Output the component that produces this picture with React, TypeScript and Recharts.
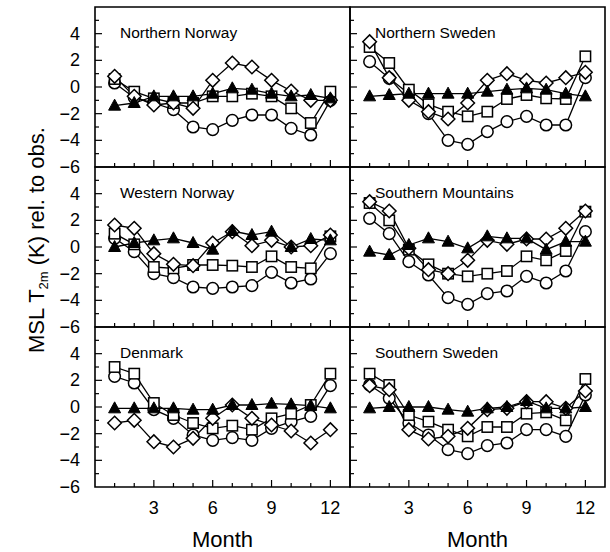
import React from "react";
import { LineChart, Line, XAxis, YAxis, ReferenceArea } from "recharts";

const months = [1, 2, 3, 4, 5, 6, 7, 8, 9, 10, 11, 12];
const yTicks = [-6, -5, -4, -3, -2, -1, 0, 1, 2, 3, 4, 5, 6];

// Northern Norway
const nNorCircle = [0.3, -0.8, -1.2, -1.7, -3.0, -3.2, -2.5, -2.1, -2.1, -3.1, -3.6, -1.0];
const nNorSquare = [0.6, -0.35, -0.85, -1.2, -1.2, -0.7, -0.7, -0.5, -0.7, -1.6, -2.7, -0.35];
const nNorDiamond = [0.8, -0.7, -1.35, -1.2, -1.6, 0.5, 1.8, 1.5, 0.5, -0.3, -1.0, -1.0];
const nNorTriangle = [-1.4, -1.2, -0.7, -0.7, -0.7, -0.5, -0.1, -0.2, -0.5, -0.7, -0.6, -0.85];

// Northern Sweden
const nSweCircle = [1.9, 0.65, -0.5, -2.0, -4.0, -4.3, -3.35, -2.6, -2.2, -2.85, -2.85, 0.7];
const nSweSquare = [3.0, 1.8, -0.2, -1.3, -1.85, -2.2, -1.85, -0.9, -0.6, -0.85, -0.9, 2.3];
const nSweDiamond = [3.4, 0.7, -1.0, -1.85, -2.4, -1.2, 0.5, 1.0, 0.5, 0.3, 0.7, 1.1];
const nSweTriangle = [-0.7, -0.6, -0.5, -0.5, -0.5, -0.5, -0.35, -0.2, -0.1, -0.2, -0.5, -0.7];

// Western Norway
const wNorCircle = [0.65, -0.35, -2.0, -2.3, -3.0, -3.1, -3.0, -2.9, -1.9, -2.7, -2.4, -0.5];
const wNorSquare = [1.0, 0.2, -1.5, -1.6, -1.35, -1.35, -1.4, -1.5, -0.7, -1.5, -1.6, 0.8];
const wNorDiamond = [1.65, 1.4, -0.5, -1.3, -1.4, 0.3, 1.15, 0.1, 0.5, 0.0, 0.1, 0.9];
const wNorTriangle = [0.0, 0.3, 0.5, 0.65, 0.3, -0.2, 1.2, 0.9, 1.15, 0.0, 0.6, 0.5];

// Southern Mountains
const sMtnCircle = [2.15, 1.0, -1.1, -2.1, -3.8, -4.3, -3.5, -3.3, -2.2, -2.7, -1.8, 1.15];
const sMtnSquare = [3.3, 2.0, -0.2, -1.3, -2.0, -2.2, -2.0, -1.8, -0.7, -1.0, -0.3, 2.65];
const sMtnDiamond = [3.4, 2.7, -0.1, -1.7, -2.0, -1.0, 0.5, 0.2, 0.6, 0.6, 1.4, 2.7];
const sMtnTriangle = [-0.35, -0.6, 0.15, 0.65, 0.4, -0.1, 0.8, 0.65, 0.65, -0.2, 0.4, 0.4];

// Denmark
const denCircle = [2.3, 1.8, -0.2, -0.85, -2.1, -2.5, -2.3, -2.5, -1.6, -1.1, -0.7, 1.6];
const denSquare = [3.0, 2.5, 0.3, -0.6, -1.2, -1.6, -1.4, -1.7, -0.85, -0.5, 0.15, 2.5];
const denDiamond = [-1.2, -1.0, -2.6, -3.0, -2.35, -0.85, 0.15, -0.85, -1.35, -1.8, -2.7, -1.7];
const denTriangle = [-0.1, -0.1, -0.1, -0.1, -0.2, -0.2, 0.15, 0.15, 0.25, 0.2, 0.1, -0.1];

// Southern Sweden
const sSweCircle = [1.65, 0.65, -1.2, -2.1, -3.2, -3.5, -2.9, -2.7, -1.7, -1.7, -2.2, 0.9];
const sSweSquare = [2.5, 1.65, -0.6, -1.1, -1.7, -2.2, -1.5, -1.5, -0.5, -0.4, -1.0, 2.1];
const sSweDiamond = [1.6, 1.3, -1.7, -2.4, -2.2, -1.6, -0.2, -0.1, 0.4, 0.4, -0.1, 1.2];
const sSweTriangle = [-0.1, 0.0, 0.0, 0.0, -0.2, -0.35, -0.1, 0.0, 0.45, -0.1, -0.1, 0.0];

const panels = [
  { title: "Northern Norway", circle: nNorCircle, square: nNorSquare, diamond: nNorDiamond, triangle: nNorTriangle },
  { title: "Northern Sweden", circle: nSweCircle, square: nSweSquare, diamond: nSweDiamond, triangle: nSweTriangle },
  { title: "Western Norway", circle: wNorCircle, square: wNorSquare, diamond: wNorDiamond, triangle: wNorTriangle },
  { title: "Southern Mountains", circle: sMtnCircle, square: sMtnSquare, diamond: sMtnDiamond, triangle: sMtnTriangle },
  { title: "Denmark", circle: denCircle, square: denSquare, diamond: denDiamond, triangle: denTriangle },
  { title: "Southern Sweden", circle: sSweCircle, square: sSweSquare, diamond: sSweDiamond, triangle: sSweTriangle },
];

const seriesKeys = ["circle", "square", "diamond", "triangle"];

const FONT = "'Liberation Sans', Arial, Helvetica, sans-serif";
const PLOT_W = 255;
const PLOT_H = 160;
const PLOT_LEFT = 95;
const PLOT_TOP = 7;

function Marker({ cx, cy, shape }: any) {
  if (cx == null || cy == null) return null;
  const common = { stroke: "#000", strokeWidth: 1.5 };
  if (shape === "circle") return <circle cx={cx} cy={cy} r={5.8} fill="#fff" {...common} />;
  if (shape === "square")
    return <rect x={cx - 5.2} y={cy - 5.2} width={10.4} height={10.4} fill="#fff" {...common} />;
  if (shape === "diamond") {
    const d = 6.8;
    return <polygon points={`${cx},${cy - d} ${cx + d},${cy} ${cx},${cy + d} ${cx - d},${cy}`} fill="#fff" {...common} />;
  }
  return (
    <polygon
      points={`${cx},${cy - 6.5} ${cx + 6},${cy + 4.5} ${cx - 6},${cy + 4.5}`}
      fill="#000"
      stroke="#000"
      strokeWidth={1}
    />
  );
}

function fmt(v: number) {
  return v < 0 ? `\u2212${-v}` : `${v}`;
}

function YTick({ x, y, payload, showLabel }: any) {
  const v = payload.value;
  const major = v % 2 === 0;
  return (
    <g>
      {Math.abs(v) < 6 && (
        <line x1={x} x2={x + (major ? 7 : 4)} y1={y} y2={y} stroke="#000" strokeWidth={1.2} />
      )}
      {showLabel && major && v < 6 && (
        <text x={x - 15} y={y} textAnchor="end" dominantBaseline="central" fontSize={18} fontFamily={FONT} fill="#000">
          {fmt(v)}
        </text>
      )}
    </g>
  );
}

function XTick({ x, y, payload, showLabel }: any) {
  const v = payload.value;
  const major = v % 3 === 0;
  return (
    <g>
      <line x1={x} x2={x} y1={y} y2={y - (major ? 7 : 4)} stroke="#000" strokeWidth={1.2} />
      {showLabel && major && (
        <text x={x} y={y + 21} textAnchor="middle" dominantBaseline="central" fontSize={18} fontFamily={FONT} fill="#000">
          {v}
        </text>
      )}
    </g>
  );
}

function Panel({ panel, row, col }: any) {
  const data = months.map((m, i) => ({
    month: m,
    circle: panel.circle[i],
    square: panel.square[i],
    diamond: panel.diamond[i],
    triangle: panel.triangle[i],
  }));
  const yAxisW = col === 0 ? PLOT_LEFT : 1;
  const xAxisH = row === 2 ? 60 : 14;
  const left = col === 0 ? 0 : PLOT_LEFT + PLOT_W - 1;
  const top = PLOT_TOP + row * PLOT_H - 1;
  const width = yAxisW + PLOT_W + 2;
  const height = 1 + PLOT_H + xAxisH + 1;
  return (
    <div style={{ position: "absolute", left, top }}>
      <LineChart width={width} height={height} data={data} margin={{ top: 1, right: 2, bottom: 1, left: 0 }}>
        <XAxis
          dataKey="month"
          type="number"
          domain={[0, 13]}
          ticks={months}
          interval={0}
          height={xAxisH}
          axisLine={false}
          tickLine={false}
          tickSize={0}
          tickMargin={0}
          tick={(p: any) => <XTick {...p} showLabel={row === 2} />}
        />
        <YAxis
          type="number"
          domain={[-6, 6]}
          ticks={yTicks}
          interval={0}
          width={yAxisW}
          axisLine={false}
          tickLine={false}
          tickSize={0}
          tickMargin={0}
          tick={(p: any) => <YTick {...p} showLabel={col === 0} />}
        />
        <ReferenceArea x1={0} x2={13} y1={-6} y2={6} fill="none" stroke="#000" strokeWidth={1.6} />
        {seriesKeys.map((k) => (
          <Line
            key={k}
            dataKey={k}
            stroke="#000"
            strokeWidth={1.3}
            isAnimationActive={false}
            dot={(p: any) => <Marker key={`${k}-${p.index}`} cx={p.cx} cy={p.cy} shape={k} />}
            activeDot={false}
          />
        ))}
      </LineChart>
      <div
        style={{
          position: "absolute",
          left: yAxisW + 1 + 24,
          top: 1 + 17,
          fontSize: 15.5,
          fontFamily: FONT,
          lineHeight: "18px",
          whiteSpace: "nowrap",
        }}
      >
        {panel.title}
      </div>
    </div>
  );
}

export default function App() {
  return (
    <div style={{ position: "absolute", left: 0, top: 0, width: 610, height: 552, background: "#fff", fontFamily: FONT }}>
      {panels.map((p, i) => (
        <Panel key={p.title} panel={p} row={Math.floor(i / 2)} col={i % 2} />
      ))}
      <div
        style={{
          position: "absolute",
          left: 40,
          top: 240,
          transform: "translate(-50%, -50%) rotate(-90deg)",
          whiteSpace: "nowrap",
          fontSize: 22,
          lineHeight: "26px",
        }}
      >
        MSL T<sub style={{ fontSize: 13, verticalAlign: "-4px" }}>2m</sub> (K) rel. to obs.
      </div>
      {[0, 1].map((c) => (
        <div
          key={c}
          style={{
            position: "absolute",
            left: PLOT_LEFT + c * PLOT_W,
            width: PLOT_W,
            top: 527,
            textAlign: "center",
            fontSize: 22,
            lineHeight: "26px",
          }}
        >
          Month
        </div>
      ))}
    </div>
  );
}
